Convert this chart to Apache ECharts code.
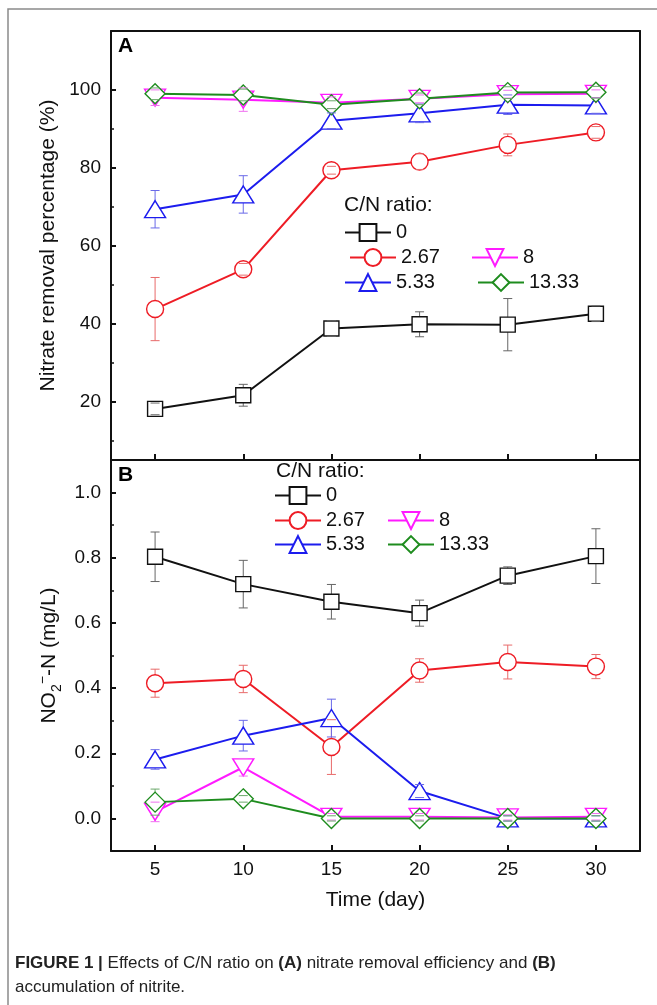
<!DOCTYPE html>
<html><head><meta charset="utf-8">
<script src="https://cdn.jsdelivr.net/npm/echarts@6/dist/echarts.min.js"></script>
<style>html,body{margin:0;padding:0;background:#fff}#c{width:657px;height:1005px}</style>
</head><body><div id="c"></div>
<script>
// ---------- data ----------
const days = [5, 10, 15, 20, 25, 30];
const ratioNames = ['0', '2.67', '5.33', '8', '13.33'];
const xTicks = [5, 10, 15, 20, 25, 30];
const yTicksA = [20, 40, 60, 80, 100];
const yMinorA = [10, 30, 50, 70, 90];
const yTicksB = [0, 0.2, 0.4, 0.6, 0.8, 1.0];
const yMinorB = [0.1, 0.3, 0.5, 0.7, 0.9];

// Panel A: nitrate removal percentage (%)
const remA_0    = [18.1, 21.6, 38.7, 39.8, 39.7, 42.5];
const remA_267  = [43.7, 53.9, 79.3, 81.5, 85.8, 89.0];
const remA_533  = [69.3, 73.1, 92.0, 93.9, 96.1, 95.9];
const remA_8    = [97.9, 97.4, 96.6, 97.6, 98.8, 98.9];
const remA_1333 = [98.9, 98.6, 96.1, 97.6, 99.2, 99.3];
const errA_0    = [1.5, 2.8, 2.0, 3.2, 6.7, 2.0];
const errA_267  = [8.1, 1.5, 1.0, 2.0, 2.8, 1.5];
const errA_533  = [4.8, 4.8, 2.0, 2.4, 2.5, 2.0];
const errA_8    = [2.0, 3.0, 1.5, 1.0, 1.0, 1.0];
const errA_1333 = [1.5, 1.5, 1.0, 1.5, 1.5, 1.5];

// Panel B: NO2- -N (mg/L)
const no2_0    = [0.803, 0.719, 0.665, 0.630, 0.745, 0.805];
const no2_267  = [0.415, 0.428, 0.219, 0.454, 0.480, 0.466];
const no2_533  = [0.181, 0.254, 0.308, 0.084, 0.000, 0.000];
const no2_8    = [0.020, 0.157, 0.005, 0.005, 0.003, 0.005];
const no2_1333 = [0.050, 0.060, 0.000, 0.000, 0.000, 0.000];
const errB_0    = [0.076, 0.073, 0.053, 0.040, 0.027, 0.084];
const errB_267  = [0.043, 0.042, 0.084, 0.036, 0.052, 0.037];
const errB_533  = [0.030, 0.047, 0.058, 0.020, 0.008, 0.008];
const errB_8    = [0.030, 0.027, 0.010, 0.010, 0.008, 0.010];
const errB_1333 = [0.040, 0.010, 0.008, 0.008, 0.008, 0.008];

// ---------- styles ----------
const FONT = 'Liberation Sans, Arial, Helvetica, sans-serif';
const colors = ['#111111', '#ee1c25', '#1c1cee', '#ff1aff', '#1e8c1e'];
const errColors = ['#666666', '#e86a6a', '#6a6ae8', '#f070f0', '#6aa86a'];
const symbols = ['rect', 'circle', 'triangle', 'path://M0,0 L20,0 L10,17 Z', 'diamond'];
const symSizes = [15, 17, [21, 17], [21, 17], [20, 20]];

const valsA = [remA_0, remA_267, remA_533, remA_8, remA_1333];
const errsA = [errA_0, errA_267, errA_533, errA_8, errA_1333];
const valsB = [no2_0, no2_267, no2_533, no2_8, no2_1333];
const errsB = [errB_0, errB_267, errB_533, errB_8, errB_1333];

function lineSeries(k, vals, xi, yi) {
  return {
    type: 'line', name: ratioNames[k], xAxisIndex: xi, yAxisIndex: yi, z: 3,
    data: days.map((d, i) => [d, vals[i]]),
    symbol: symbols[k], symbolSize: symSizes[k],
    lineStyle: { color: colors[k], width: 2 },
    itemStyle: { color: '#ffffff', borderColor: colors[k], borderWidth: 1.4 },
    emphasis: { disabled: true }, animation: false
  };
}
function errSeries(k, vals, errs, xi, yi, part) {
  return {
    type: 'custom', name: 'err' + part + k, xAxisIndex: xi, yAxisIndex: yi,
    z: part === 'stem' ? 2 : 4, silent: true, animation: false,
    encode: { x: 0, y: 1 },
    data: days.map((d, i) => [d, vals[i], errs[i]]),
    renderItem: function (params, api) {
      const x = api.value(0), v = api.value(1), e = api.value(2);
      const top = api.coord([x, v + e]);
      const bot = api.coord([x, v - e]);
      const st = { stroke: errColors[k], lineWidth: 1 };
      if (part === 'stem') {
        return { type: 'line', shape: { x1: top[0], y1: top[1], x2: bot[0], y2: bot[1] }, style: st };
      }
      return { type: 'group', children: [
        { type: 'line', shape: { x1: top[0] - 4.5, y1: top[1], x2: top[0] + 4.5, y2: top[1] }, style: st },
        { type: 'line', shape: { x1: bot[0] - 4.5, y1: bot[1], x2: bot[0] + 4.5, y2: bot[1] }, style: st }
      ]};
    }
  };
}

const series = [];
for (let k = 0; k < 5; k++) {
  series.push(errSeries(k, valsA[k], errsA[k], 0, 0, 'stem'));
  series.push(errSeries(k, valsB[k], errsB[k], 2, 3, 'stem'));
}
for (let k = 0; k < 5; k++) {
  series.push(lineSeries(k, valsA[k], 0, 0));
  series.push(lineSeries(k, valsB[k], 2, 3));
}
for (let k = 0; k < 5; k++) {
  series.push(errSeries(k, valsA[k], errsA[k], 0, 0, 'cap'));
  series.push(errSeries(k, valsB[k], errsB[k], 2, 3, 'cap'));
}

const axLine = { show: true, onZero: false, lineStyle: { color: '#111', width: 2 } };
const labelStyle = { color: '#111', fontSize: 19, fontFamily: FONT };

function xMain(grid, withLabels) {
  return {
    type: 'value', gridIndex: grid, position: 'bottom', min: 2.5, max: 32.5,
    axisLine: axLine, splitLine: { show: false },
    axisTick: { show: true, inside: true, length: 6, customValues: xTicks, lineStyle: { color: '#111', width: 2 } },
    axisLabel: withLabels ? Object.assign({ show: true, margin: 9, customValues: xTicks }, labelStyle) : { show: false },
    name: withLabels ? 'Time (day)' : '', nameLocation: 'middle', nameGap: 39,
    nameTextStyle: { fontSize: 21, color: '#111', fontFamily: FONT }
  };
}
function frameX(grid) {
  return { type: 'value', gridIndex: grid, position: 'top', min: 2.5, max: 32.5,
    axisLine: axLine, axisTick: { show: false }, axisLabel: { show: false }, splitLine: { show: false } };
}
function frameY(grid, min, max) {
  return { type: 'value', gridIndex: grid, position: 'right', min: min, max: max,
    axisLine: axLine, axisTick: { show: false }, axisLabel: { show: false }, splitLine: { show: false } };
}
function minorY(grid, min, max, vals) {
  return { type: 'value', gridIndex: grid, position: 'left', min: min, max: max,
    axisLine: { show: false, onZero: false }, axisLabel: { show: false }, splitLine: { show: false },
    axisTick: { show: true, inside: true, length: 3, customValues: vals, lineStyle: { color: '#111', width: 1.5 } } };
}

const option = {
  backgroundColor: '#ffffff',
  animation: false,
  grid: [
    { left: 111, top: 31, width: 529, height: 429 },
    { left: 111, top: 460, width: 529, height: 391 }
  ],
  xAxis: [xMain(0, false), frameX(0), xMain(1, true), frameX(1)],
  yAxis: [
    { type: 'value', gridIndex: 0, position: 'left', min: 5, max: 115,
      axisLine: axLine, splitLine: { show: false },
      axisTick: { show: true, inside: true, length: 5, customValues: yTicksA, lineStyle: { color: '#111', width: 2 } },
      axisLabel: Object.assign({ margin: 10, customValues: yTicksA }, labelStyle),
      name: 'Nitrate removal percentage (%)', nameLocation: 'middle', nameGap: 49,
      nameTextStyle: { fontSize: 21, color: '#111', fontFamily: FONT } },
    minorY(0, 5, 115, yMinorA),
    frameY(0, 5, 115),
    { type: 'value', gridIndex: 1, position: 'left', min: -0.1, max: 1.1,
      axisLine: axLine, splitLine: { show: false },
      axisTick: { show: true, inside: true, length: 5, customValues: yTicksB, lineStyle: { color: '#111', width: 2 } },
      axisLabel: Object.assign({ margin: 10, customValues: yTicksB, formatter: v => v.toFixed(1) }, labelStyle),
      name: 'NO{sub|2}{sup|−}-N (mg/L)', nameLocation: 'middle', nameGap: 46,
      nameTextStyle: { fontSize: 21, color: '#111', fontFamily: FONT, lineHeight: 28,
        rich: {
          sub: { fontSize: 14, fontFamily: FONT, color: '#111', verticalAlign: 'bottom', lineHeight: 14 },
          sup: { fontSize: 14, fontFamily: FONT, color: '#111', verticalAlign: 'top', lineHeight: 14 }
        } } },
    minorY(1, -0.1, 1.1, yMinorB),
    frameY(1, -0.1, 1.1)
  ],
  legend: (function () {
    const pos = [
      ['0', 344, 233], ['2.67', 349, 258], ['8', 471, 258], ['5.33', 344, 283], ['13.33', 477, 283],
      ['0', 274, 496], ['2.67', 274, 521], ['8', 387, 521], ['5.33', 274, 545], ['13.33', 387, 545]
    ];
    return pos.map(p => ({
      data: [p[0]], left: p[1], top: p[2] - 10.5, padding: 0, itemWidth: 46, itemHeight: 21,
      selectedMode: false, textStyle: { fontSize: 20, color: '#111', fontFamily: FONT }
    }));
  })(),
  graphic: [
    { type: 'rect', shape: { x: 8, y: 9, width: 700, height: 1100 }, style: { fill: 'none', stroke: '#8a8a8a', lineWidth: 1.5 }, silent: true, z: -1 },
    { type: 'text', left: 118, top: 36, style: { text: 'A', font: 'bold 21px ' + FONT, fill: '#000' } },
    { type: 'text', left: 118, top: 465, style: { text: 'B', font: 'bold 21px ' + FONT, fill: '#000' } },
    { type: 'text', left: 344, top: 195, style: { text: 'C/N ratio:', font: '21px ' + FONT, fill: '#111' } },
    { type: 'text', left: 276, top: 461, style: { text: 'C/N ratio:', font: '21px ' + FONT, fill: '#111' } },
    { type: 'text', left: 15, top: 951, style: {
        text: '{b|FIGURE 1 |} Effects of C/N ratio on {b|(A)} nitrate removal efficiency and {b|(B)}\naccumulation of nitrite.',
        font: '17px ' + FONT, fill: '#222', lineHeight: 24,
        rich: { b: { fontWeight: 'bold', fontSize: 17, fontFamily: FONT, fill: '#222', lineHeight: 24 } } } }
  ],
  series: series
};

const chart = echarts.init(document.getElementById('c'), null, { renderer: 'canvas' });
chart.setOption(option);
</script></body></html>
